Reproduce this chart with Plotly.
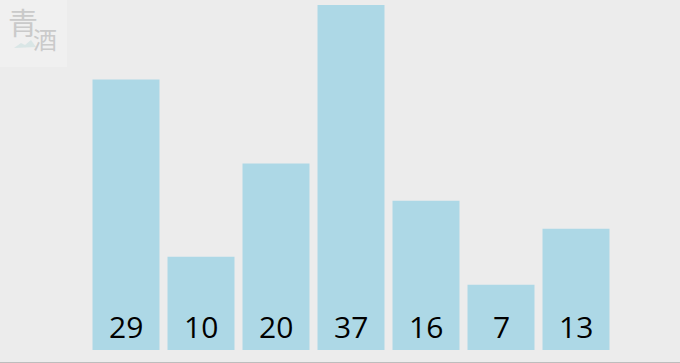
import plotly.graph_objects as go

categories = ["A", "B", "C", "D", "E", "F", "G"]
values = [29, 10, 20, 37, 16, 7, 13]
labels = [str(v) for v in values]

W, H = 680, 363
BAR_BOTTOM_PX = 350
TOP_PX = 5
k = (BAR_BOTTOM_PX - TOP_PX) / max(values)  # px per unit
ymin = -(H - BAR_BOTTOM_PX) / k
ymax = BAR_BOTTOM_PX / k

STEP = 75.0
C0 = 125.5
xmin = -C0 / STEP - 0.5 / STEP
xmax = (W - C0) / STEP - 0.5 / STEP

xs = list(range(len(categories)))

fig = go.Figure()
fig.add_trace(go.Bar(
    x=xs, y=values,
    marker=dict(color="#add8e6", line=dict(width=0)),
    width=67 / STEP,
    hoverinfo="skip",
))

for i, lab in enumerate(labels):
    fig.add_annotation(
        x=xs[i], y=0, xref="x", yref="y",
        text=lab, showarrow=False,
        yanchor="middle", xanchor="center",
        yshift=BAR_BOTTOM_PX - 326,
        font=dict(family="Open Sans, Noto Sans, sans-serif", size=30, color="#000000"),
    )

def px(x):
    return x / W

def py(y):
    return 1 - y / H

# watermark box
fig.add_shape(type="rect", xref="paper", yref="paper",
              x0=px(0), x1=px(67), y0=py(67), y1=py(0),
              fillcolor="#f0f0f0", line=dict(width=0), layer="below")
# faint mountain
fig.add_shape(type="path", xref="paper", yref="paper",
              path=f"M {px(14)},{py(48)} L {px(21)},{py(43)} L {px(25)},{py(45)} L {px(31)},{py(40)} L {px(36)},{py(47)} Z",
              fillcolor="rgba(175,212,212,0.35)", line=dict(width=0), layer="below")
fig.add_annotation(xref="paper", yref="paper", x=px(23), y=py(21.5),
                   text="青", showarrow=False, xanchor="center", yanchor="middle",
                   font=dict(family="Noto Sans CJK SC", size=30, color="#cacaca"))
fig.add_annotation(xref="paper", yref="paper", x=px(45), y=py(39),
                   text="酒", showarrow=False, xanchor="center", yanchor="middle",
                   font=dict(family="Noto Sans CJK SC", size=24, color="#cacaca"))

# bottom line
fig.add_shape(type="line", xref="paper", yref="paper",
              x0=0, x1=1, y0=py(362.5), y1=py(362.5),
              line=dict(color="#bdbdbd", width=1))

fig.update_layout(
    width=W, height=H,
    margin=dict(l=0, r=0, t=0, b=0, pad=0),
    paper_bgcolor="#ececec", plot_bgcolor="#ececec",
    showlegend=False,
    xaxis=dict(range=[xmin, xmax], visible=False, fixedrange=True),
    yaxis=dict(range=[ymin, ymax], visible=False, fixedrange=True),
)

fig.write_html("out.html", config={"displayModeBar": False})
